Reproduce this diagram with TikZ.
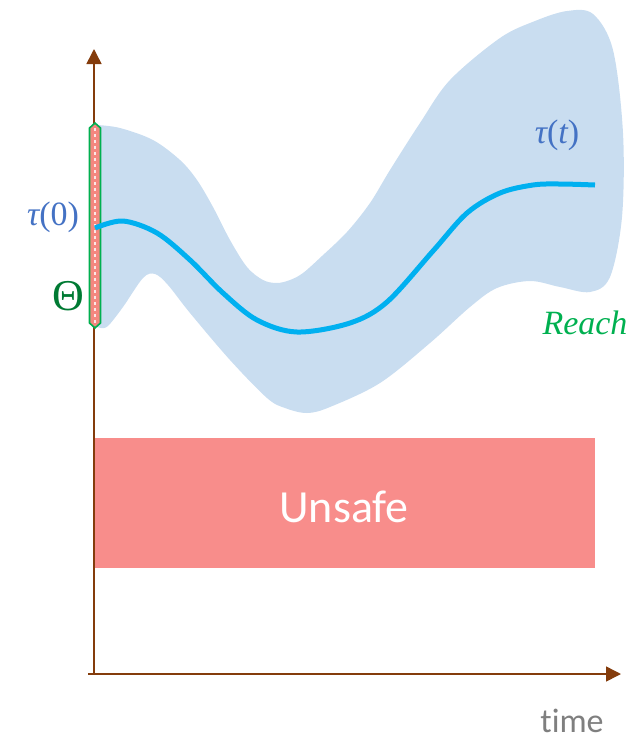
\documentclass[tikz,border=0pt]{standalone}
\usepackage{fontspec}
\newfontfamily\carlito[Ligatures=NoCommon]{Carlito}
\newfontfamily\libser{Liberation Serif}
\usetikzlibrary{arrows.meta}
\definecolor{axisbrown}{HTML}{843C0C}
\definecolor{reachfill}{HTML}{C9DDF0}
\definecolor{trajcyan}{HTML}{00B0F0}
\definecolor{labelblue}{HTML}{4472C4}
\definecolor{reachgreen}{HTML}{00B050}
\definecolor{thetagreen}{HTML}{007A33}
\definecolor{unsafered}{HTML}{F88D8B}
\definecolor{timegray}{HTML}{7F7F7F}
\definecolor{thetafill}{HTML}{F4877F}
\tikzset{
  axisline/.style={draw=axisbrown, line width=1.5pt, -{Triangle[length=15pt,width=15pt]}},
  mathlabel/.style={inner sep=0pt, text=labelblue, font=\libser\fontsize{34}{38}\selectfont},
}
\begin{document}
\begin{tikzpicture}[x=1pt,y=-1pt]
\useasboundingbox (0,0) rectangle (641,740);
% reach set
\fill[reachfill] (97,327) -- plot[smooth, tension=0.55] coordinates {
 (97,125) (120,128) (153,140) (180,160) (197,180) (213,207) (230,240) (247,267) (263,280) (277,283)
 (290,280) (303,273) (322,256) (347,232) (370,203) (390,170) (420,123) (450,80) (500,38) (535,21)
 (567,11) (593,14) (613,50) (623,133) (622,217) (610,277) (590,292) (560,287) (530,281) (497,288)
 (470,307) (430,343) (380,383) (330,407) (307,413) (285,408) (267,398) (230,360) (190,313) (168,285)
 (155,274) (143,278) (123,307) (108,326) (101,328)} -- cycle;
% unsafe box
\node (unsafe) [fill=unsafered, minimum width=502pt, minimum height=130pt, inner sep=0pt, anchor=north west] at (93,438) {};
\node (unsafetxt) [text=white, font=\carlito\fontsize{46}{50}\selectfont, inner sep=0pt] at (344,507) {Unsafe};
% axes
\coordinate (vbot) at (94,673);
\coordinate (vtip) at (94,49);
\coordinate (hleft) at (88,674);
\coordinate (htip) at (621,674);
\draw[axisline] (vbot) -- (vtip);
\draw[axisline] (hleft) -- (htip);
% initial set bar
\draw[draw=reachgreen, line width=1.6pt, fill=thetafill]
  (95,123) -- (100.5,128) -- (100.5,323) -- (95,328) -- (89.5,323) -- (89.5,128) -- cycle;
\draw[white, opacity=0.8, line width=1.3pt, dash pattern=on 3pt off 3pt] (95,128) -- (95,323);
% trajectory
\draw[trajcyan, line width=5pt] plot[smooth, tension=0.55] coordinates {
 (95,228) (123,221) (157,233) (190,260) (223,293) (257,320) (297,332) (350,323) (387,302)
 (433,251) (467,213) (500,193) (533,185) (560,184) (595,185)};
% labels
\node (tau0) [mathlabel] at (53,217) {{\itshape τ}(0)};
\node (taut) [mathlabel] at (557,135) {{\itshape τ}({\itshape t})};
\node (theta) [text=thetagreen, inner sep=0pt, font=\libser\fontsize{44}{48}\selectfont] at (68,296) {Θ};
\node (reach) [text=reachgreen, inner sep=0pt, font=\libser\itshape\fontsize{34}{38}\selectfont] at (585,323) {Reach};
\node (time) [text=timegray, inner sep=0pt, anchor=base, font=\carlito\fontsize{34}{38}\selectfont] at (572,732) {time};
\end{tikzpicture}
\end{document}
